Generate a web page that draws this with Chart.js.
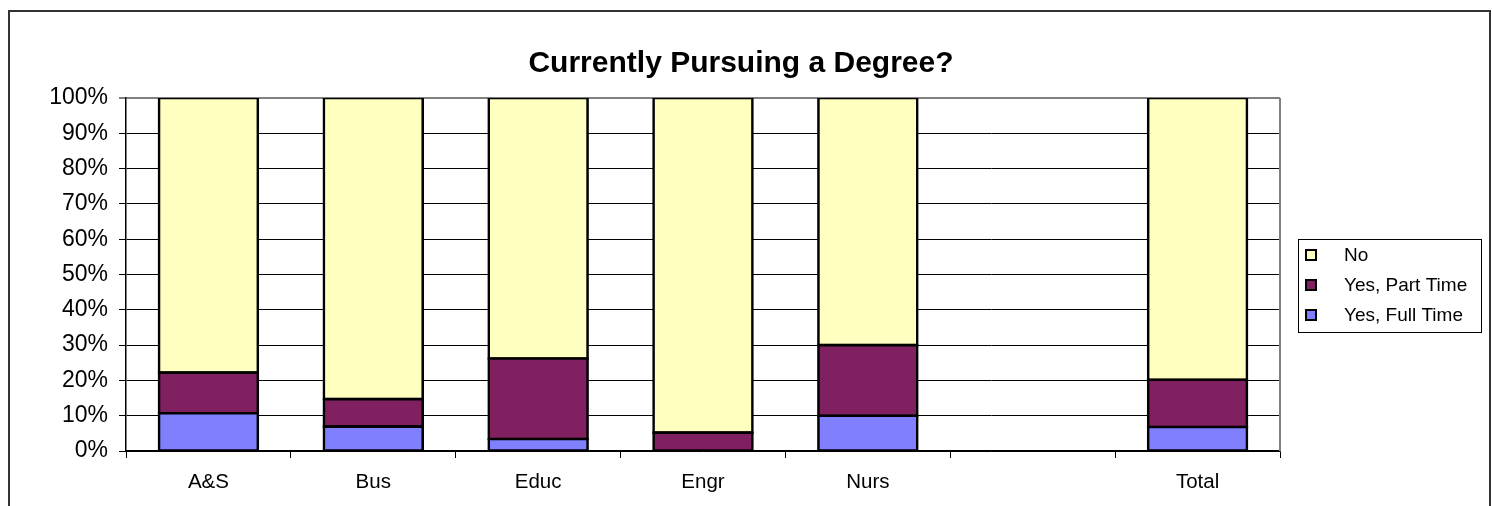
<!DOCTYPE html>
<html>
<head>
<meta charset="utf-8">
<script src="https://cdn.jsdelivr.net/npm/chart.js@4"></script>
<style>
  html, body { margin: 0; padding: 0; background: #fff; }
  #wrap { position: relative; width: 1492px; height: 506px; }
  canvas { display: block; }
</style>
</head>
<body>
<div id="wrap"><canvas id="c" width="1492" height="506"></canvas></div>
<script>
// ---- Data ----
const categories = ["A&S", "Bus", "Educ", "Engr", "Nurs", "", "Total"];
const fullTime = [10.7, 6.9, 3.4, 0, 10.0, null, 6.8];
const partTime = [11.5, 7.8, 22.8, 5.2, 20.0, null, 13.4];
const noValues = [77.8, 85.3, 73.8, 94.8, 70.0, null, 79.8];
const seriesNames = ["Yes, Full Time", "Yes, Part Time", "No"];
const yTicks = [0, 10, 20, 30, 40, 50, 60, 70, 80, 90, 100];
const titleText = "Currently Pursuing a Degree?";

const FONT = '"Liberation Sans", Arial, sans-serif';
const colors = ["#8080FF", "#802060", "#FFFFC0"];

const decorPlugin = {
  id: 'decor',
  beforeDraw(chart) {
    const ctx = chart.ctx;
    ctx.save();
    ctx.fillStyle = '#fff';
    ctx.fillRect(0, 0, chart.width, chart.height);
    ctx.restore();
  },
  afterDraw(chart) {
    const ctx = chart.ctx;
    const a = chart.chartArea;
    ctx.save();
    // outer chart border
    ctx.strokeStyle = '#333';
    ctx.lineWidth = 2;
    ctx.beginPath();
    ctx.moveTo(9, 520);
    ctx.lineTo(9, 11);
    ctx.lineTo(1490, 11);
    ctx.lineTo(1490, 520);
    ctx.stroke();
    // plot area right border (grey)
    ctx.strokeStyle = '#808080';
    ctx.lineWidth = 2;
    ctx.beginPath();
    ctx.moveTo(a.right, a.top);
    ctx.lineTo(a.right, a.bottom);
    ctx.stroke();
    // legend box
    const lx = 1298, ly = 239, lw = 183, lh = 93;
    ctx.strokeStyle = '#000';
    ctx.lineWidth = 1;
    ctx.strokeRect(lx + 0.5, ly + 0.5, lw, lh);
    const order = [2, 1, 0];
    const rowsY = [255, 285, 315];
    ctx.font = '19px ' + FONT;
    ctx.textBaseline = 'middle';
    ctx.textAlign = 'left';
    order.forEach((di, i) => {
      const ds = chart.data.datasets[di];
      ctx.fillStyle = ds.backgroundColor;
      ctx.fillRect(1306, rowsY[i] - 5, 10, 10);
      ctx.strokeStyle = '#000';
      ctx.lineWidth = 2;
      ctx.strokeRect(1306, rowsY[i] - 5, 10, 10);
      ctx.fillStyle = '#000';
      ctx.fillText(ds.label, 1344, rowsY[i] + 1);
    });
    ctx.restore();
  }
};

const mkDs = (label, data, color) => ({
  label, data,
  backgroundColor: color,
  borderColor: '#000',
  borderWidth: 2.6,
  inflateAmount: 1.3,
  borderSkipped: false,
  categoryPercentage: 1.0,
  barPercentage: 0.6
});

new Chart(document.getElementById('c'), {
  type: 'bar',
  data: {
    labels: categories,
    datasets: [
      mkDs(seriesNames[0], fullTime, colors[0]),
      mkDs(seriesNames[1], partTime, colors[1]),
      mkDs(seriesNames[2], noValues, colors[2])
    ]
  },
  options: {
    responsive: false,
    animation: false,
    devicePixelRatio: 1,
    layout: { padding: { left: 0, right: 10, top: 10, bottom: 0 } },
    plugins: {
      legend: { display: false },
      tooltip: { enabled: false },
      title: {
        display: true,
        text: titleText,
        color: '#000',
        font: { family: FONT, size: 30, weight: 'bold', lineHeight: 1.2 },
        padding: { top: 36, bottom: 16 }
      }
    },
    scales: {
      x: {
        stacked: true,
        offset: true,
        grid: { display: true, offset: true, drawOnChartArea: false, drawTicks: true, tickLength: 7, color: '#000', lineWidth: 1 },
        border: { display: true, color: '#000', width: 1.5 },
        ticks: { color: '#000', font: { family: FONT, size: 20.5 }, padding: 12, maxRotation: 0, autoSkip: false },
        afterFit(scale) { scale.height = 55; }
      },
      y: {
        stacked: true,
        min: 0, max: 100,
        afterBuildTicks(scale) { scale.ticks = yTicks.map(v => ({ value: v })); },
        grid: {
          color: (c) => c.tick && c.tick.value === 100 ? '#808080' : '#000',
          lineWidth: (c) => c.tick && c.tick.value === 100 ? 2 : 1,
          drawTicks: true, tickLength: 7
        },
        border: { display: true, color: '#000', width: 1.5 },
        ticks: { color: '#000', font: { family: FONT, size: 23 }, padding: 11, callback: v => v + '%' },
        afterFit(scale) { scale.width = 126; }
      },
      yRight: {
        position: 'right',
        display: true,
        grid: { display: false, drawTicks: false },
        border: { display: false },
        ticks: { display: false },
        afterFit(scale) { scale.width = 1482 - 1280; }
      }
    }
  },
  plugins: [decorPlugin]
});
</script>
</body>
</html>
